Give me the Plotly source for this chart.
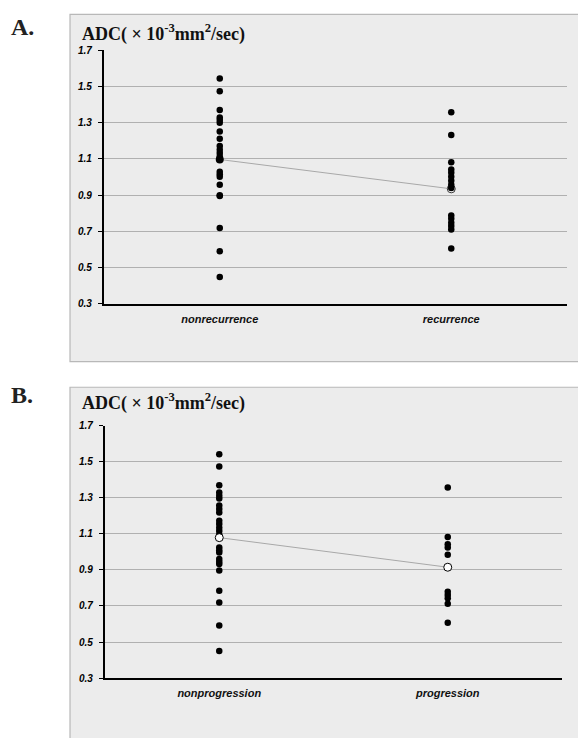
import plotly.graph_objects as go

W, H = 578, 738

# ---------------- data ----------------
cats_a = ["nonrecurrence", "recurrence"]
nonrecurrence = [1.544, 1.474, 1.371, 1.329, 1.315, 1.300, 1.251, 1.211, 1.171, 1.151,
                 1.133, 1.115, 1.097, 1.030, 1.015, 1.002, 0.957, 0.899, 0.895, 0.719,
                 0.590, 0.448]
recurrence = [1.358, 1.233, 1.082, 1.042, 1.024, 1.002, 0.980, 0.957, 0.940, 0.788,
              0.770, 0.748, 0.730, 0.711, 0.606]
means_a = [1.097, 0.935]

cats_b = ["nonprogression", "progression"]
nonprogression = [1.542, 1.473, 1.369, 1.329, 1.311, 1.296, 1.257, 1.238, 1.219, 1.173,
                  1.155, 1.134, 1.116, 1.095, 1.024, 1.009, 0.997, 0.960, 0.946, 0.933,
                  0.897, 0.784, 0.719, 0.592, 0.450]
progression = [1.357, 1.083, 1.043, 1.024, 0.984, 0.779, 0.761, 0.743, 0.712, 0.607]
means_b = [1.079, 0.915]

ytick_vals = [0.3, 0.5, 0.7, 0.9, 1.1, 1.3, 1.5, 1.7]
ytick_text = ["0.3", "0.5", "0.7", "0.9", "1.1", "1.3", "1.5", "1.7"]
grid_vals = [0.5, 0.7, 0.9, 1.1, 1.3, 1.5]


def px(x):
    return x / W


def py(y):
    return 1 - y / H


fig = go.Figure()

dot = dict(color="black", size=6.5)
line_style = dict(color="#a8a8a8", width=1)

# Panel A
fig.add_trace(go.Scatter(x=cats_a, y=means_a, mode="lines", line=line_style,
                         xaxis="x", yaxis="y", showlegend=False, hoverinfo="skip"))
fig.add_trace(go.Scatter(x=cats_a[1:], y=means_a[1:], mode="markers",
                         marker=dict(color="white", size=8, line=dict(color="#333", width=1)),
                         xaxis="x", yaxis="y", showlegend=False))
fig.add_trace(go.Scatter(x=[cats_a[0]] * len(nonrecurrence), y=nonrecurrence, mode="markers",
                         marker=dot, xaxis="x", yaxis="y", showlegend=False))
fig.add_trace(go.Scatter(x=[cats_a[1]] * len(recurrence), y=recurrence, mode="markers",
                         marker=dot, xaxis="x", yaxis="y", showlegend=False))
fig.add_trace(go.Scatter(x=cats_a[:1], y=means_a[:1], mode="markers",
                         marker=dict(color="black", size=8),
                         xaxis="x", yaxis="y", showlegend=False))

# Panel B
fig.add_trace(go.Scatter(x=cats_b, y=means_b, mode="lines", line=line_style,
                         xaxis="x2", yaxis="y2", showlegend=False, hoverinfo="skip"))
fig.add_trace(go.Scatter(x=[cats_b[0]] * len(nonprogression), y=nonprogression, mode="markers",
                         marker=dot, xaxis="x2", yaxis="y2", showlegend=False))
fig.add_trace(go.Scatter(x=[cats_b[1]] * len(progression), y=progression, mode="markers",
                         marker=dot, xaxis="x2", yaxis="y2", showlegend=False))
fig.add_trace(go.Scatter(x=cats_b, y=means_b, mode="markers",
                         marker=dict(color="white", size=8, line=dict(color="black", width=1)),
                         xaxis="x2", yaxis="y2", showlegend=False))

tick_font = dict(family="Liberation Sans, Arial", size=10, color="black",
                 weight="bold", style="italic")
cat_font = dict(family="Liberation Sans, Arial", size=11, color="#111",
                weight="bold", style="italic")

xa_dom = [px(104), px(567)]
xb_dom = [px(105), px(562)]
ya_dom = [py(302.3), py(45)]
yb_dom = [py(682.3), py(426)]


def xaxis(dom, anchor):
    return dict(domain=dom, anchor=anchor, type="category", range=[-0.5, 1.5],
                showline=True, linecolor="black", linewidth=1.6, ticks="",
                showgrid=False, zeroline=False, tickfont=cat_font,
                ticklabelstandoff=4, fixedrange=True)


def yaxis(dom, anchor):
    return dict(domain=dom, anchor=anchor, range=[0.3, 1.7], tickvals=ytick_vals,
                ticktext=ytick_text, showline=True, linecolor="black", linewidth=2.2,
                ticks="outside", ticklen=4, tickwidth=1.2, tickcolor="black",
                showgrid=False, zeroline=False, tickfont=tick_font,
                ticklabelstandoff=4, fixedrange=True)


def gridaxis(dom, anchor, overlay):
    return dict(domain=dom, anchor=anchor, overlaying=overlay, range=[0.3, 1.7],
                tickvals=grid_vals, showticklabels=False, ticks="",
                showgrid=True, gridcolor="#b0b0b0", gridwidth=1, zeroline=False,
                showline=False, layer="below traces", fixedrange=True)


fig.update_layout(
    width=W, height=H, margin=dict(l=0, r=0, t=0, b=0),
    paper_bgcolor="white", plot_bgcolor="rgba(0,0,0,0)",
    xaxis=xaxis(xa_dom, "y"), yaxis=yaxis(ya_dom, "x"),
    xaxis2=xaxis(xb_dom, "y2"), yaxis2=yaxis(yb_dom, "x2"),
    yaxis3=gridaxis(ya_dom, "x", "y"),
    yaxis4=gridaxis(yb_dom, "x2", "y2"),
)

# invisible traces to activate grid axes
fig.add_trace(go.Scatter(x=[cats_a[0]], y=[None], xaxis="x", yaxis="y3",
                         showlegend=False, hoverinfo="skip"))
fig.add_trace(go.Scatter(x=[cats_b[0]], y=[None], xaxis="x2", yaxis="y4",
                         showlegend=False, hoverinfo="skip"))

# panel boxes
for y0, y1 in [(8.5, 361), (387, 760)]:
    fig.add_shape(type="rect", xref="paper", yref="paper",
                  x0=px(70), x1=px(600), y0=py(y1), y1=py(y0),
                  fillcolor="#ececec", line=dict(color="#b8b8b8", width=1.2),
                  layer="below")

title_text = "ADC( × 10<sup>-3</sup>mm<sup>2</sup>/sec)"
for label, ly, ty in [("A.", 21.5, 27), ("B.", 395, 402)]:
    fig.add_annotation(text=label, xref="paper", yref="paper", x=px(9), y=py(ly),
                       xanchor="left", yanchor="middle", showarrow=False,
                       font=dict(family="Liberation Serif, DejaVu Serif", size=24,
                                 color="#222", weight="bold"))
    fig.add_annotation(text=title_text, xref="paper", yref="paper", x=px(80), y=py(ty),
                       xanchor="left", yanchor="middle", showarrow=False,
                       font=dict(family="Liberation Serif, DejaVu Serif", size=18,
                                 color="#111", weight="bold"))

fig.write_html("out.html")
